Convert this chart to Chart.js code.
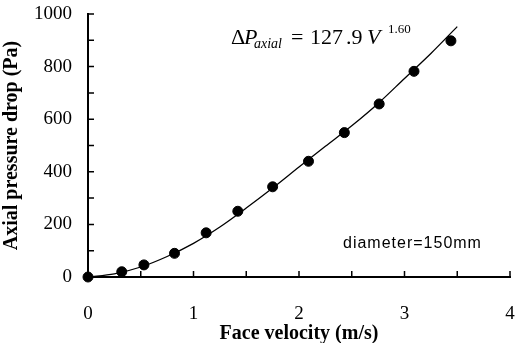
<!DOCTYPE html>
<html>
<head>
<meta charset="utf-8">
<script src="https://cdn.jsdelivr.net/npm/chart.js@4.4.0/dist/chart.umd.min.js"></script>
<style>
    html, body { margin: 0; padding: 0; background: #fff; }
    #wrap { width: 516px; height: 343px; }
</style>
</head>
<body>
<div id="wrap"><canvas id="axialChart"></canvas></div>
<script>
// measured points
const velocity = [0, 0.32, 0.53, 0.82, 1.12, 1.42, 1.75, 2.09, 2.43, 2.76, 3.09, 3.44];
const pressureDrop = [0, 20, 46, 90, 168, 250, 343, 440, 549, 658, 782, 898];

// fitted curve
const fitVelocity = [0, 0.25, 0.5, 0.75, 1, 1.25, 1.5, 1.75, 2, 2.25, 2.5, 2.75, 3, 3.25, 3.5];
const fitPressure = [0, 12, 38, 78, 128, 190, 262, 338, 418, 497, 575, 660, 755, 850, 952];

// axis ticks
const xTickMarks = [0, 0.5, 1, 1.5, 2, 2.5, 3, 3.5, 4];
const yTickMarks = [0, 100, 200, 300, 400, 500, 600, 700, 800, 900, 1000];

const serif = "'Liberation Serif', 'Times New Roman', serif";

const pairs = (xs, ys) => xs.map((x, i) => ({ x: x, y: ys[i] }));

// ticks pointing into the plot, plus the two annotations
const extras = {
    id: 'extras',
    afterDraw(chart) {
        const ctx = chart.ctx;
        const xs = chart.scales.x, ys = chart.scales.y;
        const area = chart.chartArea;
        ctx.save();
        ctx.strokeStyle = '#000';
        ctx.lineWidth = 1.5;
        ctx.beginPath();
        xTickMarks.forEach((v) => {
            const px = xs.getPixelForValue(v);
            ctx.moveTo(px, area.bottom);
            ctx.lineTo(px, area.bottom - 6);
        });
        yTickMarks.forEach((v) => {
            const py = ys.getPixelForValue(v);
            ctx.moveTo(area.left, py);
            ctx.lineTo(area.left + 6, py);
        });
        ctx.stroke();

        // equation
        ctx.fillStyle = '#000';
        ctx.textBaseline = 'alphabetic';
        ctx.font = '22px ' + serif;
        ctx.fillText('\u0394', 231, 44);
        ctx.font = 'italic 22px ' + serif;
        ctx.fillText('P', 244, 44);
        ctx.font = 'italic 14px ' + serif;
        ctx.fillText('axial', 254, 48);
        ctx.font = '22px ' + serif;
        ctx.fillText('=', 291, 44);
        ctx.fillText('127', 310, 44);
        ctx.fillText('.9', 346, 44);
        ctx.font = 'italic 22px ' + serif;
        ctx.fillText('V', 367, 44);
        ctx.font = '13px ' + serif;
        ctx.fillText('1.60', 388, 33);

        ctx.font = "16px 'Liberation Sans', Arial, sans-serif";
        ctx.letterSpacing = '1px';
        ctx.fillText('diameter=150mm', 343, 248);
        ctx.restore();
    }
};

new Chart(document.getElementById('axialChart').getContext('2d'), {
    type: 'scatter',
    data: {
        datasets: [{
            label: 'Measured',
            data: pairs(velocity, pressureDrop),
            backgroundColor: '#000',
            borderColor: '#000',
            pointRadius: 5,
            pointHoverRadius: 5,
            clip: false
        }, {
            label: 'Fit',
            data: pairs(fitVelocity, fitPressure),
            showLine: true,
            borderColor: '#000',
            borderWidth: 1.3,
            pointRadius: 0,
            cubicInterpolationMode: 'monotone'
        }]
    },
    options: {
        responsive: true,
        maintainAspectRatio: false,
        animation: false,
        layout: { padding: { top: 14, right: 6, left: 0, bottom: 0 } },
        plugins: {
            legend: { display: false },
            tooltip: { enabled: false }
        },
        scales: {
            x: {
                type: 'linear',
                min: 0,
                max: 4,
                afterFit: (scale) => {
                    scale.height = 66;
                    scale.paddingRight = 5;
                    scale.paddingLeft = 5;
                },
                grid: { display: false, drawTicks: false },
                border: { display: true, color: '#000', width: 2 },
                ticks: {
                    stepSize: 1,
                    padding: 26,
                    color: '#000',
                    font: { family: serif, size: 19 }
                },
                title: {
                    display: true,
                    text: 'Face velocity (m/s)',
                    color: '#000',
                    font: { family: serif, size: 20, weight: 'bold' },
                    padding: { top: 0, bottom: -3 }
                }
            },
            y: {
                min: 0,
                max: 1000,
                afterFit: (scale) => {
                    scale.width = 88;
                    scale.paddingTop = 0;
                    scale.paddingBottom = 0;
                },
                grid: { display: false, drawTicks: false },
                border: { display: true, color: '#000', width: 2 },
                ticks: {
                    stepSize: 200,
                    padding: 16,
                    color: '#000',
                    font: { family: serif, size: 19 },
                    callback: (value) => String(value)
                },
                title: {
                    display: true,
                    text: 'Axial pressure drop (Pa)',
                    color: '#000',
                    font: { family: serif, size: 20, weight: 'bold' },
                    padding: { top: 0, bottom: 0 }
                }
            }
        }
    },
    plugins: [extras]
});
</script>
</body>
</html>
